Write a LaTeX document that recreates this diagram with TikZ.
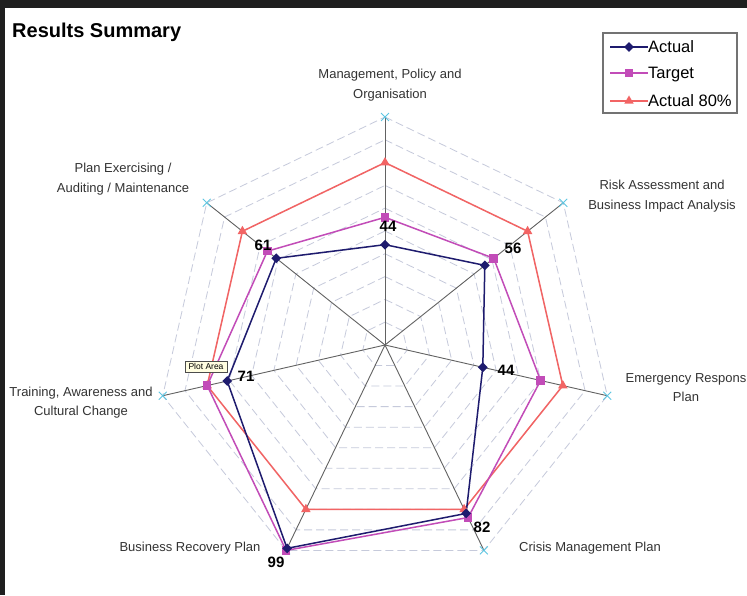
\documentclass[tikz,border=0pt]{standalone}
\usepackage{fontspec}
\setmainfont{Liberation Sans}
\usetikzlibrary{shapes.geometric,shapes.misc,positioning,calc}
\definecolor{actualc}{HTML}{1E1B6E}
\definecolor{targetc}{HTML}{C24CB8}
\definecolor{eightyc}{HTML}{F26464}
\definecolor{gridc}{HTML}{C6CADB}
\definecolor{axisc}{HTML}{626262}
\definecolor{tickc}{HTML}{5EC6E2}
\definecolor{labelc}{HTML}{333333}
\begin{document}
\begin{tikzpicture}[
    x=1pt, y=1pt,
    gridline/.style={gridc, dash pattern=on 8pt off 4pt, line width=0.8pt},
    axisline/.style={axisc, line width=0.9pt},
    axislabel/.style={text=labelc, align=center, inner sep=0pt,
        font=\fontsize{13}{19.5}\selectfont},
    vallabel/.style={inner sep=0pt, font=\bfseries\fontsize{15}{15}\selectfont},
    seriesline/.style={line width=1.5pt, line join=round},
    actualmark/.style={diamond, fill=actualc, inner sep=0pt, minimum size=10pt},
    targetmark/.style={rectangle, fill=targetc, inner sep=0pt, minimum size=8.5pt},
    eightymark/.style={regular polygon, regular polygon sides=3, fill=eightyc,
        inner sep=0pt, minimum size=11pt},
    tickmark/.style={cross out, draw=tickc, line width=0.9pt, inner sep=0pt,
        minimum size=7pt},
    legendtext/.style={anchor=west, inner sep=0pt, text height=12pt, text depth=0pt,
        yshift=0.5pt, font=\fontsize{16.5}{16.5}\selectfont},
  ]
  % frame
  \fill[white] (0,0) rectangle (747,595);
  \fill[black!88] (0,587) rectangle (747,595);
  \fill[black!88] (0,0) rectangle (5,595);
  \useasboundingbox (0,0) rectangle (747,595);

  \node[anchor=west, inner sep=0pt, font=\bfseries\fontsize{20}{20}\selectfont]
    (title) at (12,563) {Results Summary};

  \coordinate (O) at (385,250);
  \begin{scope}[shift={(O)}]
    % grid
    \foreach \k in {1,...,10}
      \draw[gridline] (90:{\k*22.8})
        \foreach \i in {1,...,6} { -- ({90-\i*360/7}:{\k*22.8}) } -- cycle;
    \foreach \i in {0,...,6}
      \coordinate (e\i) at ({90-\i*360/7}:228);
    % data: actual / target / 80%
    \foreach \va/\vt [count=\i from 0] in
        {44/56, 56/61, 44/70, 82/84, 99/100, 71/80, 61/66} {
      \coordinate (a\i) at ({90-\i*360/7}:{\va*2.28});
      \coordinate (t\i) at ({90-\i*360/7}:{\vt*2.28});
      \coordinate (p\i) at ({90-\i*360/7}:{80*2.28});
    }
  \end{scope}

  \foreach \i in {0,...,6} {
    \draw[axisline] (O) -- (e\i);
    \node[tickmark] (x\i) at (e\i) {};
  }

  \draw[seriesline, eightyc] (p0) -- (p1) -- (p2) -- (p3) -- (p4) -- (p5) -- (p6) -- cycle;
  \draw[seriesline, targetc] (t0) -- (t1) -- (t2) -- (t3) -- (t4) -- (t5) -- (t6) -- cycle;
  \draw[seriesline, actualc] (a0) -- (a1) -- (a2) -- (a3) -- (a4) -- (a5) -- (a6) -- cycle;
  \foreach \i in {0,...,6} {
    \node[eightymark] (pm\i) at (p\i) {};
    \node[targetmark] (tm\i) at (t\i) {};
    \node[actualmark] (am\i) at (a\i) {};
  }

  % axis labels
  \node[axislabel] (lmgmt) at (390,510) {Management, Policy and\\Organisation};
  \node[axislabel] (lrisk) at (662,399) {Risk Assessment and\\Business Impact Analysis};
  \node[axislabel] (lemer) at (686,207.5) {Emergency Respons\\Plan};
  \node[axislabel] (lcris) at (590,46.5) {Crisis Management Plan};
  \node[axislabel] (lbusi) at (190,46.5) {Business Recovery Plan};
  \node[axislabel] (ltrain) at (81,192.5) {Training, Awareness and\\Cultural Change};
  \node[axislabel] (lplan) at (123,416) {Plan Exercising /\\Auditing / Maintenance};

  % values of actual
  \node[vallabel] (v0) at (388,369) {44};
  \node[vallabel] (v1) at (513,347) {56};
  \node[vallabel] (v2) at (506,225) {44};
  \node[vallabel] (v3) at (482,68) {82};
  \node[vallabel] (v4) at (276,33) {99};
  \node[vallabel] (v5) at (246,219) {71};
  \node[vallabel] (v6) at (263,350) {61};

  \node[draw=black!70, fill=yellow!12, inner sep=0pt, minimum width=42pt,
    minimum height=11pt, font=\fontsize{8.5}{8.5}\selectfont] (plotarea) at (206,228.5) {Plot Area};

  % legend
  \node[draw=black!55, line width=1.2pt, minimum width=134pt, minimum height=80pt]
    (legend) at (670,522) {};
  \coordinate (la) at (610,548);
  \coordinate (lt) at (610,522);
  \coordinate (lp) at (610,494);
  \coordinate (la2) at (648,548);
  \coordinate (lt2) at (648,522);
  \coordinate (lp2) at (648,494);
  \draw[seriesline, actualc] (la) -- (la2);
  \draw[seriesline, targetc] (lt) -- (lt2);
  \draw[seriesline, eightyc] (lp) -- (lp2);
  \node[actualmark] (lam) at ($(la)!0.5!(la2)$) {};
  \node[targetmark] (ltm) at ($(lt)!0.5!(lt2)$) {};
  \node[eightymark] (lpm) at ($(lp)!0.5!(lp2)$) {};
  \node[legendtext] (lat) at (la2) {Actual};
  \node[legendtext] (ltt) at (lt2) {Target};
  \node[legendtext] (lpt) at (lp2) {Actual 80\%};
\end{tikzpicture}
\end{document}
